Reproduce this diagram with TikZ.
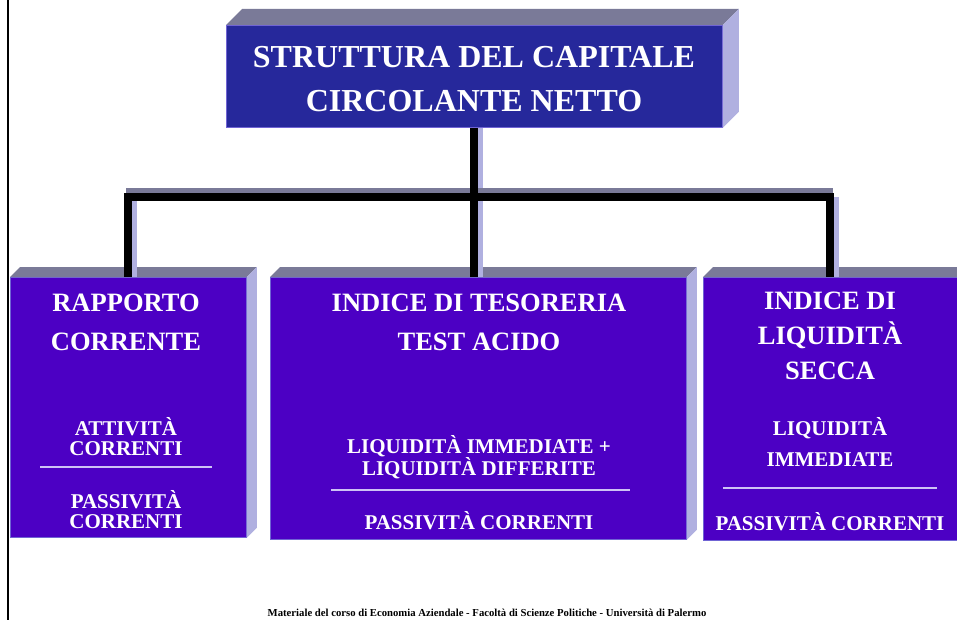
\documentclass[tikz,border=0pt]{standalone}
\usepackage{fontspec}
\setmainfont{Liberation Serif}
\usetikzlibrary{positioning}

\definecolor{capfront}{RGB}{38,40,155}
\definecolor{idxfront}{RGB}{76,0,196}
\definecolor{topface}{RGB}{122,122,152}
\definecolor{sideface}{RGB}{176,176,224}
\definecolor{boxedge}{RGB}{112,100,212}
\definecolor{fracline}{RGB}{205,195,245}

\tikzset{
  box/.style={draw=boxedge, line width=0.8pt, inner sep=0pt, anchor=north west},
  capbox/.style={box, fill=capfront},
  idxbox/.style={box, fill=idxfront},
  titletext/.style={text=white, align=center, font=\fontsize{32}{44}\selectfont\bfseries},
  nametext/.style={text=white, align=center, font=\fontsize{26.5}{39}\selectfont\bfseries},
  ratiotext/.style={text=white, align=center, font=\fontsize{21}{20}\selectfont\bfseries},
  divline/.style={draw=fracline, line width=1.8pt},
  bar/.style={line width=8pt, black},
  barside/.style={line width=5pt, sideface},
  bartop/.style={line width=5pt, topface},
}

% top and right faces of a box node: #1 node, #2 depth
\newcommand{\boxfaces}[2]{%
  \fill[topface] (#1.north west) -- ([shift={(#2,-#2)}]#1.north west)
    -- ([shift={(#2,-#2)}]#1.north east) -- (#1.north east) -- cycle;
  \fill[sideface] (#1.north east) -- ([shift={(#2,-#2)}]#1.north east)
    -- ([shift={(#2,-#2)}]#1.south east) -- (#1.south east) -- cycle;}

\begin{document}
\begin{tikzpicture}[x=1pt, y=-1pt]
  \useasboundingbox (0,0) rectangle (957,620);
  \clip (0,0) rectangle (957,620);

  % boxes
  \node[capbox, minimum width=496, minimum height=102] (ccn) at (226,25) {};
  \node[idxbox, minimum width=236, minimum height=260] (rc) at (10,277) {};
  \node[idxbox, minimum width=416, minimum height=262] (it) at (270,277) {};
  \node[idxbox, minimum width=254, minimum height=263] (ls) at (703,277) {};
  \boxfaces{ccn}{16}
  \boxfaces{rc}{10}
  \boxfaces{it}{10}
  \boxfaces{ls}{10}
  \coordinate (bus) at (474,197);

  % connectors
  \begin{scope}[line cap=butt]
    \draw[barside, transform canvas={xshift=6.5pt}] (ccn.south) -- (ccn.south |- it.north);
    \draw[barside, transform canvas={xshift=6.5pt}] (rc.north |- bus) -- (rc.north);
    \draw[barside, transform canvas={xshift=6.5pt}] (ls.north |- bus) -- (ls.north);
    \draw[bartop, line cap=rect, transform canvas={yshift=6.5pt}] (rc.north |- bus) -- (ls.north |- bus);
    \draw[bar, line cap=rect] (rc.north |- bus) -- (ls.north |- bus);
    \draw[bar] (ccn.south) -- (ccn.south |- it.north);
    \draw[bar] (rc.north |- bus) -- (rc.north);
    \draw[bar] (ls.north |- bus) -- (ls.north);
  \end{scope}

  % texts
  \node[titletext] (ccn-text) at (474,79) {STRUTTURA DEL CAPITALE\\CIRCOLANTE NETTO};

  \node[nametext] (rc-name) at (126,322) {RAPPORTO\\CORRENTE};
  \node[ratiotext] (rc-num) at (126,437) {ATTIVITÀ\\CORRENTI};
  \node[ratiotext] (rc-den) at (126,510) {PASSIVITÀ\\CORRENTI};
  \draw[divline] (40,467) -- (212,467);

  \node[nametext] (it-name) at (479,322) {INDICE DI TESORERIA\\TEST ACIDO};
  \node[ratiotext] (it-num) at (479,457) {LIQUIDITÀ IMMEDIATE +\\LIQUIDITÀ DIFFERITE};
  \node[ratiotext] (it-den) at (479,521) {PASSIVITÀ CORRENTI};
  \draw[divline] (331,490) -- (630,490);

  \node[nametext, font=\fontsize{26.5}{35}\selectfont\bfseries] (ls-name) at (830,336) {INDICE DI\\LIQUIDITÀ\\SECCA};
  \node[ratiotext, font=\fontsize{21}{31}\selectfont\bfseries] (ls-num) at (830,442) {LIQUIDITÀ\\IMMEDIATE};
  \node[ratiotext] (ls-den) at (830,522) {PASSIVITÀ CORRENTI};
  \draw[divline] (723,488) -- (937,488);

  % page edge and footer
  \draw[line width=1.5pt] (8,0) -- (8,620);
  \node[font=\fontsize{10.7}{12}\selectfont\bfseries] (footer) at (487,613)
    {Materiale del corso di Economia Aziendale - Facoltà di Scienze Politiche - Università di Palermo};
\end{tikzpicture}
\end{document}
